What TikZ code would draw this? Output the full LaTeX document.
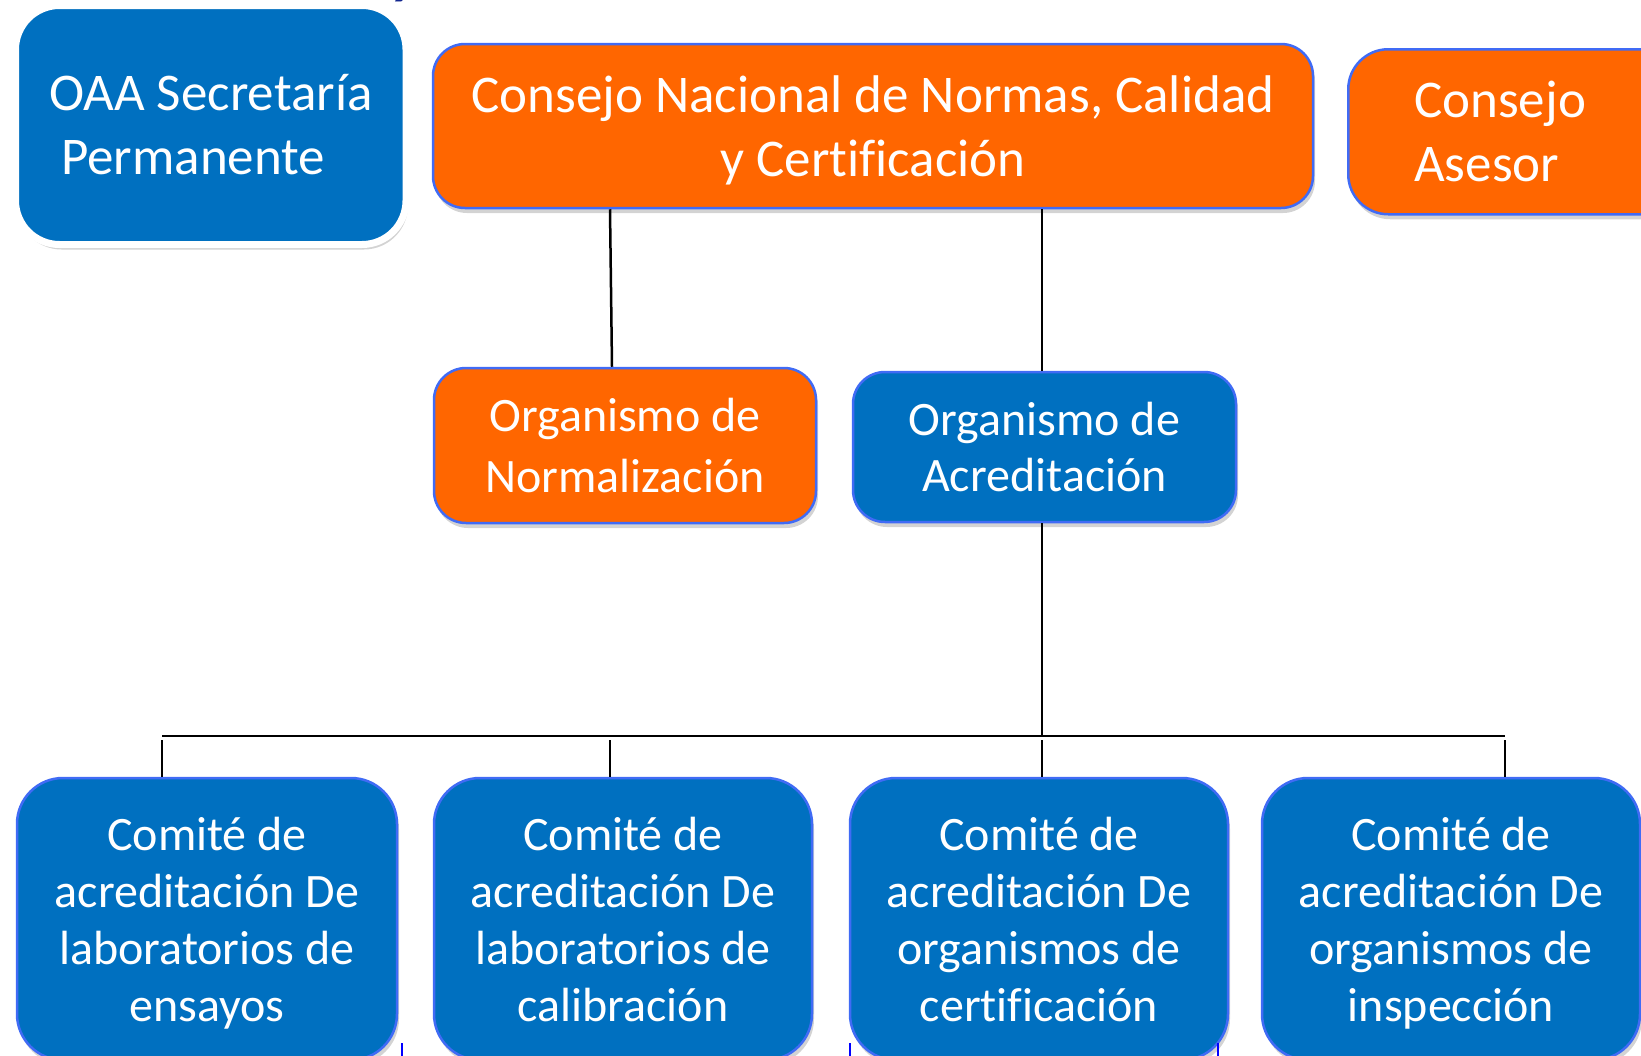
\documentclass[tikz,border=0pt]{standalone}
\usepackage{fontspec}
\setmainfont[Ligatures=NoCommon]{Carlito}
\usetikzlibrary{shadows}

\begin{document}
\begin{tikzpicture}[x=1pt,y=-1pt]
\definecolor{boxblue}{rgb}{0.000000, 0.439216, 0.752941}
\definecolor{boxorange}{rgb}{1.000000, 0.400000, 0.000000}
\definecolor{rimblue}{rgb}{0.250000, 0.420000, 0.960000}
\definecolor{titleblue}{rgb}{0.070000, 0.150000, 0.560000}
\tikzset{
  orgbox/.style={rounded corners=32pt, draw=rimblue, line width=2.5pt, text=white,
    align=center, inner sep=0pt,
    drop shadow={shadow xshift=2pt, shadow yshift=-5pt, opacity=0.35}},
  bluebox/.style={orgbox, fill=boxblue},
  orangebox/.style={orgbox, fill=boxorange},
  bigtext/.style={font=\fontsize{53}{64}\selectfont},
  smalltext/.style={font=\fontsize{48}{57}\selectfont},
  link/.style={draw=black, line width=2.5pt}
}
\useasboundingbox (0,0) rectangle (1641,1055);
% cut title
\node[text=titleblue, font=\fontsize{60}{60}\selectfont\bfseries\itshape, anchor=base west, inner sep=0pt] (title) at (392,-8) {y};
% top row
\node[bluebox, draw=white, line width=7pt, rounded corners=44pt, bigtext, align=left,
  minimum width=390.5pt, minimum height=239pt] (oaa) at (210.75,125)
  {OAA Secretaría\\\hspace*{12pt}Permanente};
\node[orangebox, bigtext, minimum width=880pt, minimum height=164pt] (cnnc) at (873,126)
  {Consejo Nacional de Normas, Calidad\\\smash{y Certificación}};
\node[orangebox, bigtext, rounded corners=40pt, anchor=north west, align=left,
  text width=248pt, inner xsep=66pt, minimum height=165pt] (asesor) at (1347,48)
  {Consejo\\Asesor};
% middle row
\node[orangebox, font=\fontsize{48}{61}\selectfont, minimum width=382pt, minimum height=155pt] (norm) at (625,445.5)
  {Organismo de\\Normalización};
\node[bluebox, font=\fontsize{48}{56}\selectfont, minimum width=383pt, minimum height=150pt] (acred) at (1044.5,447)
  {Organismo de\\Acreditación};
% committees
\node[bluebox, smalltext, rounded corners=46pt, minimum width=380pt, minimum height=282pt] (ens) at (207,919)
  {Comité de\\acreditación De\\laboratorios de\\\smash{ensayos}};
\node[bluebox, smalltext, rounded corners=46pt, minimum width=378pt, minimum height=282pt] (cal) at (623,919)
  {Comité de\\acreditación De\\laboratorios de\\calibración};
\node[bluebox, smalltext, rounded corners=46pt, minimum width=378pt, minimum height=282pt] (cer) at (1039,919)
  {Comité de\\acreditación De\\organismos de\\certificación};
\node[bluebox, smalltext, rounded corners=46pt, minimum width=378pt, minimum height=282pt] (ins) at (1451,919)
  {Comité de\\acreditación De\\organismos de\\\smash{inspección}};
% links
\coordinate (busL) at (162,736);
\coordinate (busR) at (1505,736);
\draw[link] (cnnc.south -| 610,0) -- (norm.north -| 612,0);
\draw[link] (cnnc.south -| 1042,0) -- (acred.north -| 1042,0);
\draw[link] (acred.south -| 1042,0) -- (busL -| 1042,0);
\draw[link] (busL) -- (busR);
\foreach \n/\x in {ens/162,cal/610,cer/1042,ins/1505}
  \draw[link] (\x,740) -- (\n.north -| \x,0);
% stray marks
\foreach \x in {402,850,1218}
  \draw[blue, line width=2pt] (\x,1043) -- (\x,1056);
\end{tikzpicture}
\end{document}
